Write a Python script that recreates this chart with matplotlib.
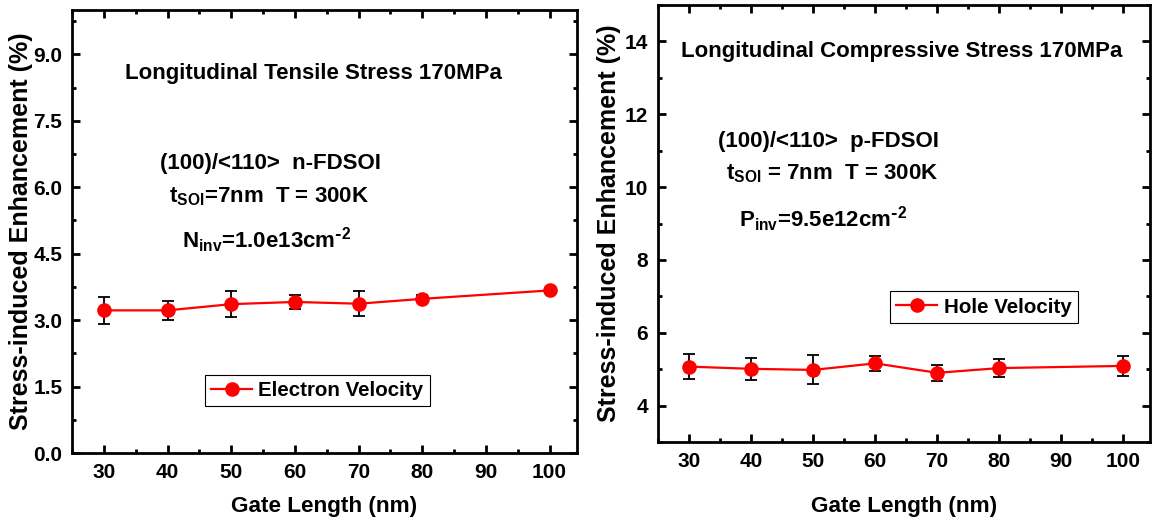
import matplotlib
matplotlib.use("Agg")
import matplotlib.pyplot as plt
from matplotlib.ticker import MultipleLocator, FormatStrFormatter

# data
gate_length = [30, 40, 50, 60, 70, 80, 100]
electron_enh = [3.22, 3.22, 3.36, 3.41, 3.37, 3.48, 3.67]
electron_err = [0.30, 0.22, 0.30, 0.15, 0.28, 0.08, 0.06]
hole_enh = [5.07, 5.01, 4.98, 5.16, 4.90, 5.03, 5.09]
hole_err = [0.35, 0.30, 0.40, 0.20, 0.22, 0.25, 0.27]
x_ticks = [30, 40, 50, 60, 70, 80, 90, 100]

plt.rcParams['font.family'] = ['Liberation Sans', 'DejaVu Sans']
plt.rcParams['font.weight'] = 'bold'
plt.rcParams['mathtext.default'] = 'regular'

fig = plt.figure(figsize=(11.54, 5.21), dpi=100)
ax1 = fig.add_axes([0.0624, 0.1305, 0.4376, 0.8503])
ax2 = fig.add_axes([0.5702, 0.1516, 0.4263, 0.8388])


def style(ax, ylim, major, minor, fmt, ylab_x, xpad):
    ax.set_xlim(25, 104.3)
    ax.set_ylim(*ylim)
    ax.set_xticks(x_ticks)
    ax.xaxis.set_minor_locator(MultipleLocator(5))
    ax.yaxis.set_major_locator(MultipleLocator(major))
    ax.yaxis.set_minor_locator(MultipleLocator(minor))
    ax.yaxis.set_major_formatter(FormatStrFormatter(fmt))
    ax.tick_params(which='both', direction='in', top=True, right=True, width=2)
    ax.tick_params(which='major', length=5.5, labelsize=15, pad=7)
    ax.tick_params(which='minor', length=3)
    for s in ax.spines.values():
        s.set_linewidth(2)
    for lab in ax.get_xticklabels() + ax.get_yticklabels():
        lab.set_fontweight('bold')
    ax.set_xlabel('Gate Length (nm)', fontsize=16.2, fontweight='bold', labelpad=xpad)
    ax.set_ylabel('Stress-induced Enhancement (%)', fontsize=18, fontweight='bold')
    ax.yaxis.set_label_coords(ylab_x, 0.5)


def draw(ax, y, err, label):
    ax.errorbar(gate_length, y, yerr=err, fmt='none', ecolor='black',
                elinewidth=1.3, capsize=4, capthick=1.3, zorder=2)
    ax.plot(gate_length, y, color='red', lw=1.6, marker='o', ms=9.5,
            label=label, zorder=3)


def legend(ax, anchor):
    leg = ax.legend(loc='lower left', bbox_to_anchor=anchor, borderaxespad=0,
                    fontsize=14.8, fancybox=False, edgecolor='black', framealpha=1,
                    handlelength=2.0, borderpad=0.3, handletextpad=0.3)
    leg.get_frame().set_linewidth(0.8)


# left panel: tensile, electrons
draw(ax1, electron_enh, electron_err, 'Electron Velocity')
style(ax1, (0, 10), 1.5, 0.75, '%.1f', -0.077, 10)
legend(ax1, (0.263, 0.106))

# right panel: compressive, holes
draw(ax2, hole_enh, hole_err, 'Hole Velocity')
style(ax2, (3, 15), 2, 1, '%d', -0.075, 18)
legend(ax2, (0.472, 0.273))

# annotation texts placed in pixel coordinates of the figure
H = 521
def note(x, y, s, size=16):
    fig.text(x / 1154, 1 - y / H, s, ha='center', va='center',
             fontsize=size, fontweight='bold')

note(313, 73, 'Longitudinal Tensile Stress 170MPa')
note(270, 163, '(100)/<110>  n-FDSOI')
note(269, 197, r'$t_{SOI}$=7nm  T = 300K')
note(267, 240, r'$N_{inv}$=1.0e13cm$^{\text{-}2}$')

note(902, 52, 'Longitudinal Compressive Stress 170MPa')
note(828, 142, '(100)/<110>  p-FDSOI')
note(832, 174, r'$t_{SOI}$ = 7nm  T = 300K')
note(823, 219, r'$P_{inv}$=9.5e12cm$^{\text{-}2}$')

fig.savefig('out.png', dpi=100)
